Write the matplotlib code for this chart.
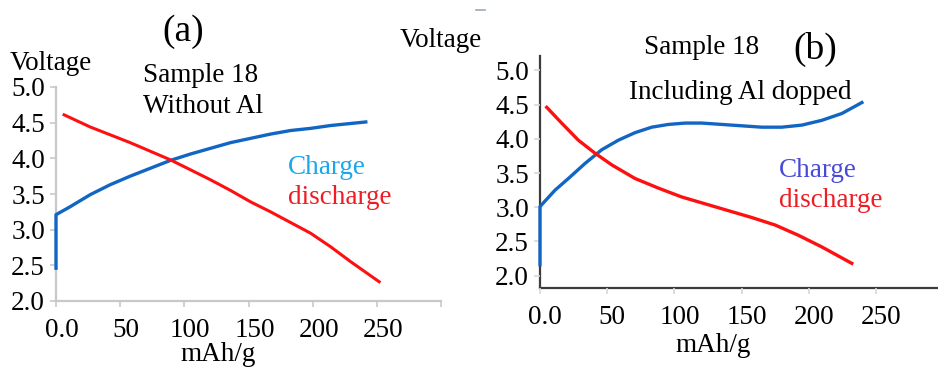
import matplotlib
matplotlib.use("Agg")
import matplotlib.pyplot as plt
from matplotlib.transforms import ScaledTranslation
from matplotlib.lines import Line2D

plt.rcParams["font.family"] = ["Liberation Serif", "DejaVu Serif"]

# ---- data: panel (a) Sample 18 without Al ----
a_charge_x = [0, 0, 10.9, 26.6, 42.2, 57.8, 73.4, 89, 104.7, 120.3, 136,
              151.6, 167.2, 182.8, 198.4, 214, 241.4]
a_charge_v = [2.46, 3.21, 3.32, 3.49, 3.63, 3.75, 3.86, 3.97, 4.06, 4.14, 4.22,
              4.28, 4.34, 4.39, 4.42, 4.46, 4.51]
a_dis_x = [6.3, 26.6, 57.8, 73.4, 89, 104.7, 120.3, 136, 151.6, 167.2, 182.8,
           198.4, 214, 229.7, 251.8]
a_dis_v = [4.61, 4.44, 4.22, 4.10, 3.98, 3.84, 3.70, 3.55, 3.39, 3.25, 3.10,
           2.95, 2.76, 2.55, 2.27]

# ---- data: panel (b) Sample 18 including Al doped ----
b_charge_x = [0, 0, 11.2, 21.1, 33.5, 45.9, 58.3, 70.7, 83.1, 95.5, 107.9,
              120.3, 135.2, 150.1, 165, 179.8, 194.7, 209.6, 224.5, 239.4]
b_charge_v = [2.16, 3.01, 3.25, 3.42, 3.64, 3.84, 3.98, 4.09, 4.17, 4.21, 4.23,
              4.23, 4.21, 4.19, 4.17, 4.17, 4.20, 4.27, 4.37, 4.53]
b_dis_x = [5, 16.1, 28.5, 40.9, 53.3, 70.7, 88, 105.4, 122.8, 140.1, 157.5,
           174.9, 192.2, 209.6, 231.9]
b_dis_v = [4.46, 4.23, 3.98, 3.79, 3.62, 3.42, 3.28, 3.15, 3.05, 2.95, 2.85,
           2.74, 2.59, 2.42, 2.18]

y_ticks = [2.0, 2.5, 3.0, 3.5, 4.0, 4.5, 5.0]
y_tick_labels = ["2.0", "2.5", "3.0", "3.5", "4.0", "4.5", "5.0"]
x_ticks = [0, 50, 100, 150, 200, 250]
x_tick_labels = ["0.0", "50", "100", "150", "200", "250"]

W, H = 938, 367
fig = plt.figure(figsize=(W / 100, H / 100), dpi=100)

BLUE = "#1166c4"
RED = "#ff1010"
TICK_FS = 19.5
TEXT_FS = 19.5


def rect(x0, y0, x1, y1):
    return [x0 / W, 1 - y1 / H, (x1 - x0) / W, (y1 - y0) / H]


def ftext(x, y, s, **kw):
    kw.setdefault("fontsize", TEXT_FS)
    kw.setdefault("va", "baseline")
    fig.text(x / W, 1 - y / H, s, **kw)


def style_axes(ax, axis_color, tick_color, xlim, ylim, xticks_all, dx):
    for side in ("top", "right"):
        ax.spines[side].set_visible(False)
    for side in ("left", "bottom"):
        ax.spines[side].set_color(axis_color)
        ax.spines[side].set_linewidth(1.6)
        ax.spines[side].set_zorder(1)
    ax.set_xlim(*xlim)
    ax.set_ylim(*ylim)
    ax.set_yticks(y_ticks)
    ax.set_yticklabels(y_tick_labels, fontsize=TICK_FS)
    ax.set_xticks(xticks_all)
    labels = x_tick_labels + [""] * (len(xticks_all) - len(x_tick_labels))
    ax.set_xticklabels(labels, fontsize=TICK_FS)
    ax.tick_params(axis="both", direction="out", length=4, width=1.2,
                   color=tick_color)
    ax.tick_params(axis="x", pad=8)
    ax.tick_params(axis="y", pad=4)
    ax.patch.set_alpha(0)
    off = ScaledTranslation(dx / 100, 0, fig.dpi_scale_trans)
    for lab in ax.get_xticklabels():
        lab.set_transform(lab.get_transform() + off)


# ---- panel (a) ----
ax1 = fig.add_axes(rect(56, 87, 441, 301))
ax1.plot(a_charge_x, a_charge_v, color=BLUE, lw=2.4, clip_on=False, zorder=3,
         solid_joinstyle="round")
ax1.plot(a_dis_x, a_dis_v, color=RED, lw=2.2, clip_on=False, zorder=3)
style_axes(ax1, "#c8c8c8", "#c8c8c8", (0, 300), (2.0, 5.0),
           x_ticks + [300], 6)

ftext(183, 41, "(a)", ha="center", fontsize=27)
ftext(10, 70, "Voltage")
ftext(143, 82, "Sample 18")
ftext(143, 113, "Without Al")
ftext(288, 174, "Charge", color="#1aa7ec")
ftext(288, 204, "discharge", color="#ee1c24")
ftext(218, 361, "mAh/g", ha="center")

# ---- panel (b) ----
ax2 = fig.add_axes(rect(540, 56, 938, 288))
ax2.plot(b_charge_x, b_charge_v, color=BLUE, lw=2.4, clip_on=False, zorder=3,
         solid_joinstyle="round")
ax2.plot(b_dis_x, b_dis_v, color=RED, lw=2.4, clip_on=False, zorder=3)
style_axes(ax2, "#3c3c3c", "#d8d8d8", (0, 296), (1.82, 5.21),
           x_ticks, 5)

ftext(400, 47, "Voltage")
ftext(702, 54, "Sample 18", ha="center")
ftext(815, 59, "(b)", ha="center", fontsize=27)
ftext(740, 99, "Including Al dopped", ha="center")
ftext(779, 177, "Charge", color="#4a4ad8")
ftext(779, 207, "discharge", color="#ee1c24")
ftext(713, 352, "mAh/g", ha="center")

# small stray dash above the second panel
fig.add_artist(Line2D([476 / W, 485 / W], [1 - 10 / H, 1 - 10 / H],
                      color="#9aaabb", lw=1.2))

fig.savefig("out.png", dpi=100)
